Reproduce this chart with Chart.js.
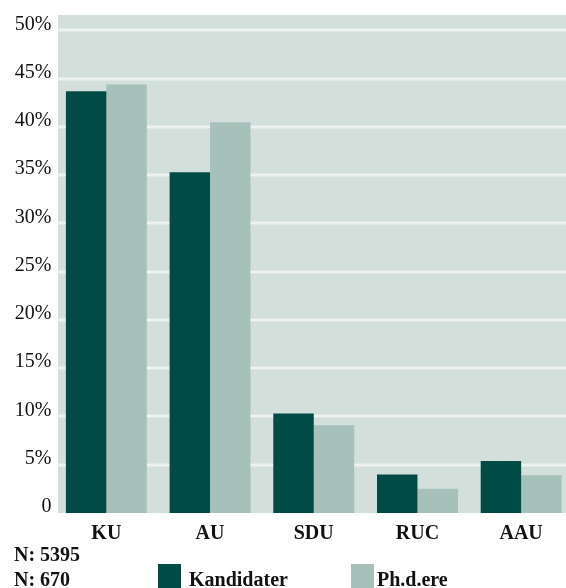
<!DOCTYPE html>
<html>
<head>
<meta charset="utf-8">
<script src="https://cdn.jsdelivr.net/npm/chart.js@4"></script>
<style>
html,body{margin:0;padding:0;background:#fff;}
#wrap{width:566px;height:588px;position:relative;}
</style>
</head>
<body>
<div id="wrap"><canvas id="c" width="566" height="588"></canvas></div>
<script>
const categories = ['KU', 'AU', 'SDU', 'RUC', 'AAU'];
const kandidater = [43.7, 35.3, 10.3, 4.0, 5.4];
const phd = [44.4, 40.5, 9.1, 2.5, 3.9];
const seriesNames = ['Kandidater', 'Ph.d.ere'];
const yTickValues = [0, 5, 10, 15, 20, 25, 30, 35, 40, 45, 50];
const yMax = 51.6;
const nLabels = ['N: 5395', 'N: 670'];

const DARK = '#004b46';
const LIGHT = '#a5c1b9';
const BG = '#d3dfdb';
const GRID = '#eef2f0';
const FONT = '"Liberation Serif", "Times New Roman", serif';

const decor = {
  id: 'decor',
  afterLayout(chart) {
    // category band extends slightly past the visible panel edge
    const x = chart.scales.x;
    x.right = 573;
    x.width = x.right - x.left;
    x.configure();
  },
  beforeDatasetsDraw(chart) {
    const {ctx, chartArea, scales} = chart;
    const y = scales.y;
    const x0 = 58, x1 = 566;
    const bottom = y.getPixelForValue(0);
    ctx.save();
    ctx.fillStyle = BG;
    ctx.fillRect(x0, chartArea.top, x1 - x0, bottom - chartArea.top);
    ctx.strokeStyle = GRID;
    ctx.lineWidth = 3;
    yTickValues.forEach(v => {
      if (v === 0) return;
      const py = Math.round(y.getPixelForValue(v));
      ctx.beginPath();
      ctx.moveTo(x0, py);
      ctx.lineTo(x1, py);
      ctx.stroke();
    });
    ctx.restore();
  },
  afterDraw(chart) {
    const {ctx} = chart;
    ctx.save();
    ctx.fillStyle = '#111';
    ctx.font = 'bold 20px ' + FONT;
    ctx.textBaseline = 'alphabetic';
    ctx.textAlign = 'left';
    ctx.fillText(nLabels[0], 14, 561);
    ctx.fillText(nLabels[1], 14, 586);
    const items = [
      {box: 158, text: 189, color: chart.data.datasets[0].backgroundColor, label: chart.data.datasets[0].label},
      {box: 351, text: 377, color: chart.data.datasets[1].backgroundColor, label: chart.data.datasets[1].label}
    ];
    items.forEach(it => {
      ctx.fillStyle = it.color;
      ctx.fillRect(it.box, 564, 23, 24);
      ctx.fillStyle = '#111';
      ctx.fillText(it.label, it.text, 586);
    });
    ctx.restore();
  }
};

new Chart(document.getElementById('c'), {
  type: 'bar',
  data: {
    labels: categories,
    datasets: [
      {label: seriesNames[0], data: kandidater, backgroundColor: DARK, borderWidth: 0, barPercentage: 1, categoryPercentage: 0.78},
      {label: seriesNames[1], data: phd, backgroundColor: LIGHT, borderWidth: 0, barPercentage: 1, categoryPercentage: 0.78}
    ]
  },
  options: {
    responsive: false,
    animation: false,
    devicePixelRatio: 1,
    layout: {padding: {top: 15, right: 0, left: 0, bottom: 0}},
    plugins: {legend: {display: false}, tooltip: {enabled: false}},
    scales: {
      x: {
        grid: {display: false, drawTicks: false},
        border: {display: false},
        ticks: {color: '#111', font: {family: FONT, size: 20, weight: 'bold'}, padding: 9},
        afterFit(s) { s.height = 75; }
      },
      y: {
        min: 0,
        max: yMax,
        grid: {display: false, drawTicks: false},
        border: {display: false},
        afterBuildTicks(s) { s.ticks = yTickValues.map(v => ({value: v})); },
        afterFit(s) { s.width = 54.5; },
        ticks: {
          color: '#111',
          font: {family: FONT, size: 20},
          padding: 3,
          labelOffset: -6,
          callback: v => v === 0 ? '0' : v + '%'
        }
      }
    }
  },
  plugins: [decor]
});
</script>
</body>
</html>
